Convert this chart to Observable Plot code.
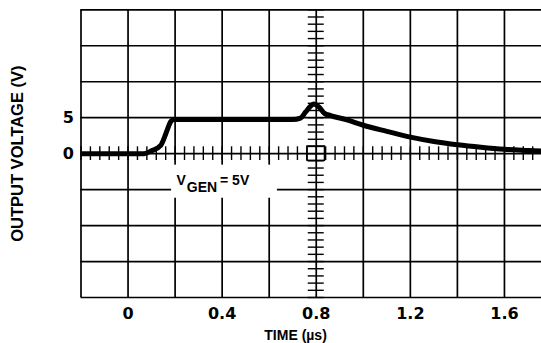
<!DOCTYPE html>
<html><head><meta charset="utf-8">
<script src="https://cdn.jsdelivr.net/npm/d3@7"></script>
<script src="https://cdn.jsdelivr.net/npm/@observablehq/plot@0.6"></script>
<style>
html,body{margin:0;padding:0;background:#fff;overflow:hidden;}
</style>
</head><body><div id="chart"></div>
<script>
// Waveform (time in µs, output voltage in V)
const time    = [-0.2, 0.068, 0.10, 0.139, 0.155, 0.17, 0.182, 0.195, 0.70, 0.733, 0.755, 0.776, 0.79, 0.811, 0.835, 0.861, 0.93, 1.0, 1.1, 1.2, 1.3, 1.4, 1.5, 1.6, 1.7, 1.8];
const voltage = [0, 0, 0.4, 1.15, 2.3, 3.6, 4.5, 4.75, 4.75, 4.95, 5.8, 6.6, 6.9, 6.5, 5.6, 5.3, 4.7, 3.95, 3.1, 2.3, 1.7, 1.25, 0.9, 0.62, 0.45, 0.3];

const xTicks = [0, 0.4, 0.8, 1.2, 1.6];
const yTicks = [0, 5];
const xGrid = [-0.2, 0, 0.2, 0.4, 0.6, 0.8, 1.0, 1.2, 1.4, 1.6, 1.8];
const yGrid = [-20, -15, -10, -5, 0, 5, 10, 15, 20];
const xMinor = d3.range(0, 51).map(i => -0.2 + i * 0.04);
const yMinor = d3.range(-20, 21, 1);

const xLabel = "TIME (µs)";
const yLabel = "OUTPUT VOLTAGE (V)";

const data = time.map((t, i) => ({t, v: voltage[i]}));
const lbl = {fontFamily: "Liberation Sans", fontWeight: "bold", fill: "black"};

const plot = Plot.plot({
  width: 541, height: 343,
  marginLeft: 80.5, marginRight: 0, marginTop: 9.3, marginBottom: 46,
  x: {domain: [-0.2, 1.8], range: [80.5, 551]},
  y: {domain: [-20, 20], range: [297, 9.3]},
  style: {fontFamily: "DejaVu Sans", fontWeight: "bold", background: "white", overflow: "hidden", color: "black"},
  marks: [
    Plot.ruleX(xGrid, {stroke: "black", strokeWidth: 1.7}),
    Plot.ruleY(yGrid, {stroke: "black", strokeWidth: 1.7}),
    Plot.ruleX(xMinor, {y1: -0.95, y2: 0.95, stroke: "black", strokeWidth: 1.4}),
    Plot.ruleY(yMinor, {x1: 0.8 - 0.034, x2: 0.8 + 0.034, stroke: "black", strokeWidth: 1.4}),
    Plot.rect([0], {x1: 0.763, x2: 0.837, y1: -1, y2: 1, fill: "none", stroke: "black", strokeWidth: 1.5}),
    Plot.rect([0], {x1: 0.185, x2: 0.635, y1: -6.2, y2: -1.6, fill: "white"}),
    Plot.text(["V"], {x: 0.206, y: -3.78, textAnchor: "start", lineAnchor: "middle", fontSize: 14, ...lbl}),
    Plot.text(["GEN"], {x: 0.250, y: -4.75, textAnchor: "start", lineAnchor: "middle", fontSize: 14, ...lbl}),
    Plot.text(["= 5V"], {x: 0.391, y: -3.78, textAnchor: "start", lineAnchor: "middle", fontSize: 14, ...lbl}),
    Plot.line(data, {x: "t", y: "v", stroke: "black", strokeWidth: 5, curve: "monotone-x", strokeLinecap: "butt"}),
    Plot.axisX(xTicks, {tickSize: 0, tickPadding: 10, fontSize: 16, label: null, tickFormat: d => String(d)}),
    Plot.axisY(yTicks, {tickSize: 0, tickPadding: 7, fontSize: 16, label: null, tickFormat: d => String(d)}),
    Plot.text([yLabel], {frameAnchor: "left", dx: -63.2, rotate: -90, textAnchor: "middle", lineAnchor: "middle", fontSize: 16.5, ...lbl}),
    Plot.text([xLabel], {x: 0.712, frameAnchor: "bottom", dy: 38.5, textAnchor: "middle", lineAnchor: "middle", fontSize: 14, ...lbl})
  ]
});
document.getElementById("chart").appendChild(plot);
</script>
</body></html>
